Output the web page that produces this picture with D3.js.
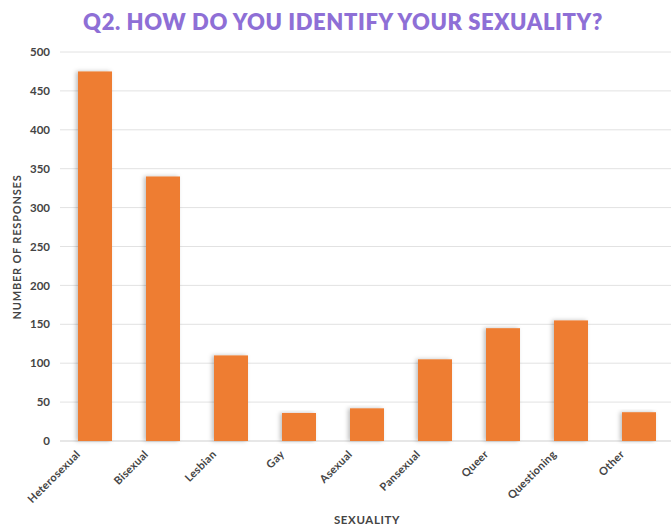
<!DOCTYPE html>
<html><head><meta charset="utf-8">
<script src="https://cdn.jsdelivr.net/npm/d3@7"></script>
<style>body{margin:0;background:#fff;}</style>
</head><body>
<svg id="c" width="671" height="530"></svg>
<script>
const categories = ["Heterosexual","Bisexual","Lesbian","Gay","Asexual","Pansexual","Queer","Questioning","Other"];
const values = [475, 340, 110, 36, 42, 105, 145, 155, 37];
const yTicks = [0,50,100,150,200,250,300,350,400,450,500];
const titleText = "Q2. HOW DO YOU IDENTIFY YOUR SEXUALITY?";
const xTitle = "SEXUALITY";
const yTitle = "NUMBER OF RESPONSES";

const svg = d3.select("#c");
const font = "Lato, 'Open Sans', sans-serif";
const x = d3.scaleBand().domain(categories).range([61, 673]).paddingInner(0.5).paddingOuter(0.25);
const y = d3.scaleLinear().domain([0, 500]).range([441, 52]);

const defs = svg.append("defs");
const f = defs.append("filter").attr("id","sh").attr("x","-30%").attr("y","-10%").attr("width","160%").attr("height","120%");
f.append("feDropShadow").attr("dx",-2).attr("dy",0).attr("stdDeviation",2).attr("flood-color","#000").attr("flood-opacity",0.25);

svg.append("text").attr("x",343).attr("y",30).attr("text-anchor","middle")
  .attr("font-family",font).attr("font-weight",800).attr("font-size",22).attr("letter-spacing",0.6)
  .attr("fill","#8E6FD6").text(titleText);

// gridlines
svg.append("g").selectAll("line").data(yTicks).join("line")
  .attr("x1",60).attr("x2",671).attr("y1",d=>y(d)).attr("y2",d=>y(d))
  .attr("stroke",d=>d===0?"#cfcfcf":"#e2e2e2").attr("stroke-width",1);

const yAxis = svg.append("g").attr("transform","translate(60,0)")
  .call(d3.axisLeft(y).tickValues(yTicks).tickSize(0).tickPadding(10));
yAxis.select(".domain").remove();
yAxis.selectAll("text").attr("font-family",font).attr("font-weight",700).attr("font-size",11.5).attr("fill","#444");

svg.append("g").selectAll("rect").data(categories).join("rect")
  .attr("x",d=>x(d)).attr("width",x.bandwidth())
  .attr("y",(d,i)=>y(values[i])).attr("height",(d,i)=>y(0)-y(values[i]))
  .attr("fill","#EE7D31").attr("filter","url(#sh)");

const xAxis = svg.append("g").attr("transform","translate(0,441)")
  .call(d3.axisBottom(x).tickSize(0));
xAxis.select(".domain").remove();
xAxis.selectAll("text")
  .attr("font-family",font).attr("font-weight",700).attr("font-size",11).attr("letter-spacing",0.3).attr("fill","#444")
  .attr("text-anchor","end").attr("x",-14).attr("y",14).attr("dy",0)
  .attr("transform","rotate(-45,-14,14)");

svg.append("text").attr("x",367).attr("y",524).attr("text-anchor","middle")
  .attr("font-family",font).attr("font-weight",700).attr("font-size",11.5).attr("letter-spacing",0.6).attr("fill","#444").text(xTitle);

svg.append("text").attr("transform","translate(21,247) rotate(-90)").attr("text-anchor","middle")
  .attr("font-family",font).attr("font-weight",700).attr("font-size",11).attr("letter-spacing",0.8).attr("fill","#444").text(yTitle);
</script>
</body></html>
